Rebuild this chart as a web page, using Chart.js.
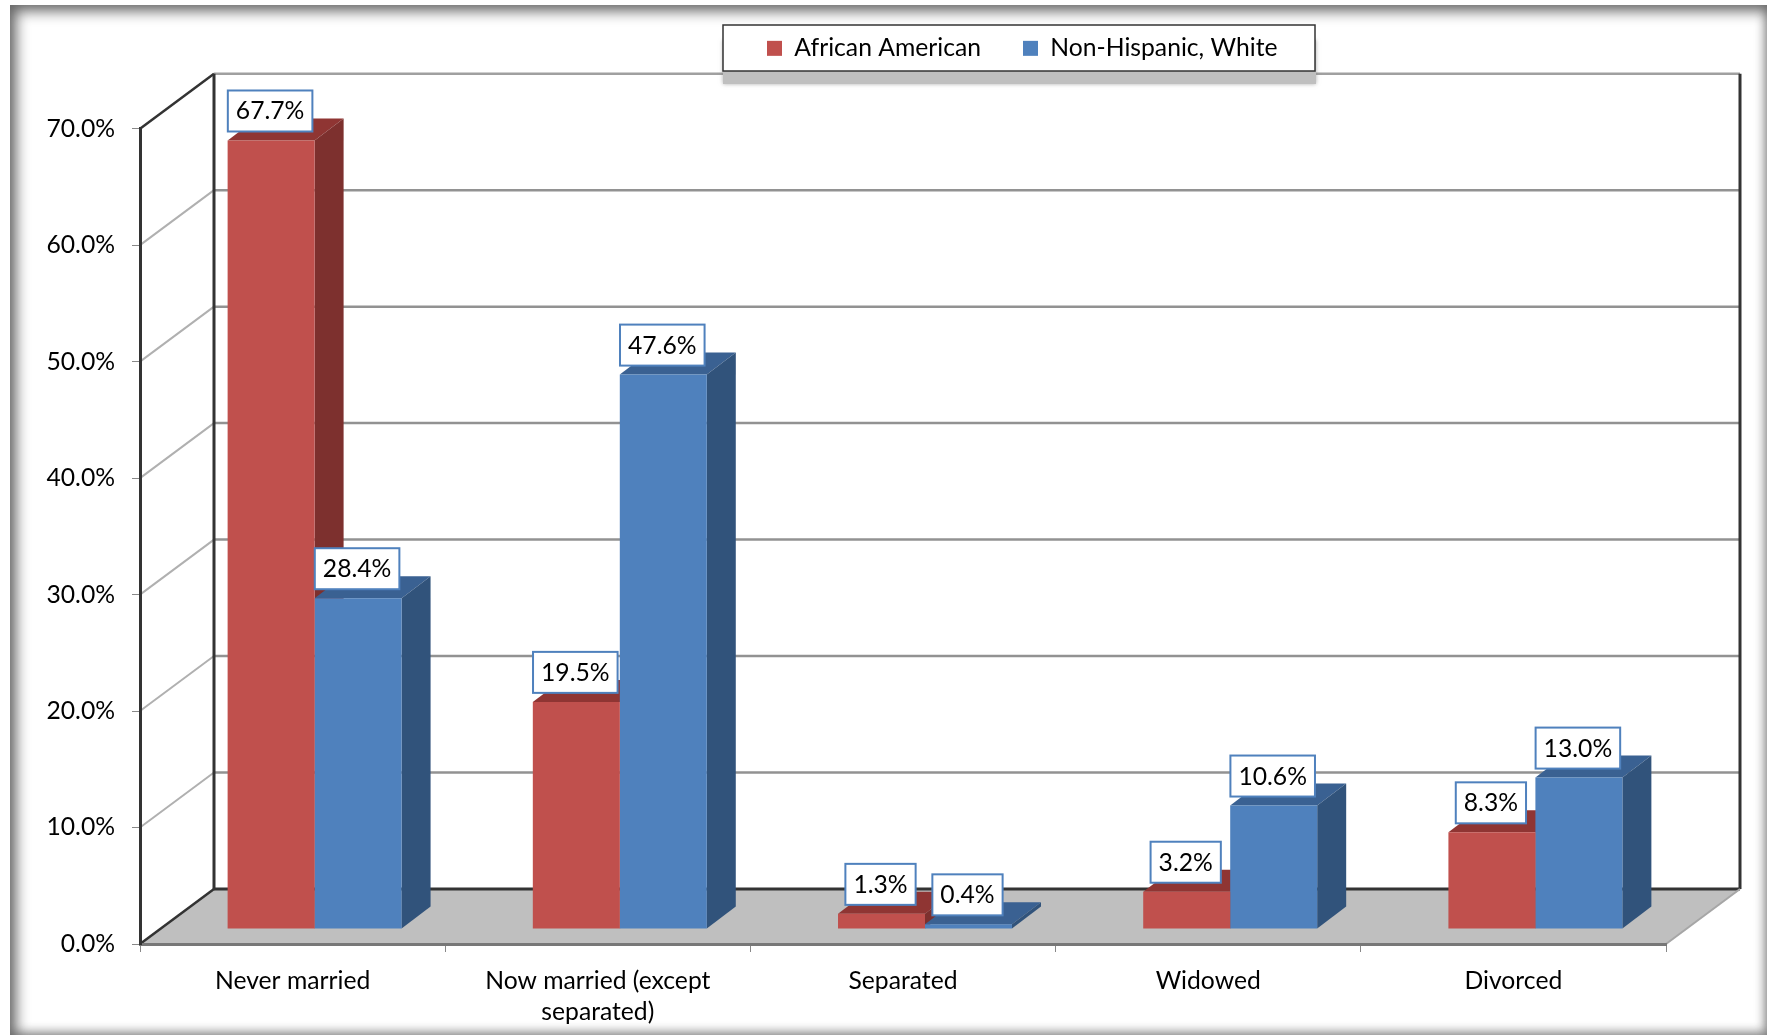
<!DOCTYPE html>
<html>
<head>
<meta charset="utf-8">
<title>Marital status</title>
<script src="https://cdn.jsdelivr.net/npm/chart.js@4"></script>
<style>
    html, body { margin: 0; padding: 0; background: #fff; }
    #wrap { position: relative; width: 1767px; height: 1035px; overflow: hidden; }
    #frame { position: absolute; left: 10px; top: 5px; right: 0; bottom: 0; box-shadow: inset 4px 4px 14px 2px #666, inset -2px -3px 10px 0 #bbb; }
    #chart { position: absolute; left: 0; top: 0; filter: blur(0.5px); }
</style>
</head>
<body>
<div id="wrap">
    <div id="frame"></div>
    <canvas id="chart" width="1767" height="1035"></canvas>
</div>
<script>
const categories = ["Never married", ["Now married (except", "separated)"], "Separated", "Widowed", "Divorced"];
const africanAmerican = [67.7, 19.5, 1.3, 3.2, 8.3];
const nonHispanicWhite = [28.4, 47.6, 0.4, 10.6, 13.0];

const fontName = "Lato, 'Open Sans', sans-serif";
const fontSize = 24.7;

// the 3d look: how far the back wall sits from the front plane, and the bars in between
const wallDx = 74, wallDy = -55;
const barDx = 22, barDy = -15;
const sideDx = 29, sideDy = -22;

const faces = [
    { top: "#8f3533", side: "#7d302e" },
    { top: "#3a6192", side: "#31537b" }
];

function line(ctx, x1, y1, x2, y2, color, width) {
    ctx.strokeStyle = color;
    ctx.lineWidth = width;
    ctx.beginPath();
    ctx.moveTo(x1, y1);
    ctx.lineTo(x2, y2);
    ctx.stroke();
}

function poly(ctx, pts, color) {
    ctx.fillStyle = color;
    ctx.beginPath();
    pts.forEach((p, i) => i ? ctx.lineTo(p[0], p[1]) : ctx.moveTo(p[0], p[1]));
    ctx.closePath();
    ctx.fill();
}

const walls3d = {
    id: "walls3d",
    afterLayout(chart) {
        // legend sits off centre in the original
        const legend = chart.legend;
        legend.left = 725;
        legend.right = 1400;
        legend.top = -6;
        legend.bottom = 103;
    },
    beforeDraw(chart) {
        const ctx = chart.ctx;
        const area = chart.chartArea;
        const y = chart.scales.y;
        const left = area.left, right = area.right, bottom = area.bottom;
        ctx.save();

        // floor
        poly(ctx, [[left, bottom], [left + wallDx, bottom + wallDy], [right + wallDx, bottom + wallDy], [right, bottom]], "#bfbfbf");

        // grid lines on the side and back walls
        y.ticks.forEach(t => {
            const py = y.getPixelForValue(t.value);
            if (t.value > 0 && t.value < y.max) {
                line(ctx, left, py, left + wallDx, py + wallDy, "#b0b0b0", 2);
                line(ctx, left + wallDx, py + wallDy, right + wallDx, py + wallDy, "#929292", 2.5);
            }
        });
        const topY = y.getPixelForValue(y.max);
        line(ctx, left + wallDx, topY + wallDy, right + wallDx, topY + wallDy, "#a0a0a0", 2.5);
        line(ctx, left, topY, left + wallDx, topY + wallDy, "#333", 2.5);
        line(ctx, left, bottom, left + wallDx, bottom + wallDy, "#333", 2.5);
        line(ctx, left + wallDx, topY + wallDy, left + wallDx, bottom + wallDy, "#333", 3);
        line(ctx, right + wallDx, topY + wallDy, right + wallDx, bottom + wallDy, "#333", 3);
        line(ctx, left + wallDx, bottom + wallDy, right + wallDx, bottom + wallDy, "#333", 3);
        line(ctx, right, bottom, right + wallDx, bottom + wallDy, "#a6a6a6", 2);

        // legend box with its shadow
        ctx.fillStyle = "#bfbfbf";
        ctx.shadowColor = "rgba(120,120,120,0.6)";
        ctx.shadowBlur = 4;
        ctx.fillRect(723, 40, 593, 44);
        ctx.shadowBlur = 0;
        ctx.fillStyle = "#fff";
        ctx.fillRect(723, 25, 592, 46);
        ctx.strokeStyle = "#333";
        ctx.lineWidth = 1.5;
        ctx.strokeRect(723, 25, 592, 46);
        ctx.restore();
    },
    beforeDatasetsDraw(chart) {
        const ctx = chart.ctx;
        ctx.save();
        ctx.translate(barDx, barDy);

        // top and side faces go under the front faces chart.js draws
        chart.data.datasets.forEach((ds, i) => {
            chart.getDatasetMeta(i).data.forEach(bar => {
                const x1 = bar.x - bar.width / 2, x2 = bar.x + bar.width / 2;
                poly(ctx, [[x1, bar.y], [x1 + sideDx, bar.y + sideDy], [x2 + sideDx, bar.y + sideDy], [x2, bar.y]], faces[i].top);
                poly(ctx, [[x2, bar.y], [x2 + sideDx, bar.y + sideDy], [x2 + sideDx, bar.base + sideDy], [x2, bar.base]], faces[i].side);
            });
        });
    },
    afterDatasetsDraw(chart) {
        const ctx = chart.ctx;

        // value labels in their boxes
        ctx.font = fontSize + "px " + fontName;
        ctx.textAlign = "center";
        ctx.textBaseline = "middle";
        chart.data.datasets.forEach((ds, i) => {
            chart.getDatasetMeta(i).data.forEach((bar, j) => {
                const text = ds.data[j].toFixed(1) + "%";
                const w = ctx.measureText(text).width + 16;
                const cx = bar.x - 1;
                ctx.fillStyle = "#fff";
                ctx.fillRect(cx - w / 2, bar.y - 50, w, 41);
                ctx.strokeStyle = "#4f81bd";
                ctx.lineWidth = 2;
                ctx.strokeRect(cx - w / 2, bar.y - 50, w, 41);
                ctx.fillStyle = "#000";
                ctx.fillText(text, cx, bar.y - 29);
            });
        });
        ctx.restore();
    }
};

new Chart(document.getElementById("chart"), {
    type: "bar",
    data: {
        labels: categories,
        datasets: [
            { label: "African American", data: africanAmerican, backgroundColor: "#c0504d", clip: false },
            { label: "Non-Hispanic, White", data: nonHispanicWhite, backgroundColor: "#4f81bd", clip: false }
        ]
    },
    options: {
        responsive: false,
        animation: false,
        devicePixelRatio: 1,
        events: [],
        layout: { autoPadding: false, padding: { top: 52, right: 101, left: 0, bottom: 0 } },
        datasets: { bar: { barPercentage: 1, categoryPercentage: 0.57 } },
        plugins: {
            tooltip: { enabled: false },
            legend: {
                position: "top",
                align: "start",
                labels: {
                    boxWidth: 15,
                    boxHeight: 15,
                    padding: 42,
                    color: "#000",
                    font: { family: fontName, size: fontSize }
                }
            }
        },
        scales: {
            x: {
                afterFit(scale) { scale.height = 91; },
                grid: { drawOnChartArea: false, drawTicks: true, tickLength: 8, color: "#888" },
                border: { color: "#777", width: 3 },
                ticks: {
                    autoSkip: false,
                    maxRotation: 0,
                    padding: 13,
                    color: "#000",
                    font: { family: fontName, size: fontSize, lineHeight: 1.28 }
                }
            },
            y: {
                min: 0,
                max: 70,
                afterFit(scale) { scale.width = 140; },
                grid: { drawOnChartArea: false, drawTicks: true, tickLength: 8, color: "#888" },
                border: { color: "#333", width: 3 },
                ticks: {
                    stepSize: 10,
                    padding: 17,
                    color: "#000",
                    font: { family: fontName, size: fontSize },
                    callback: v => v.toFixed(1) + "%"
                }
            }
        }
    },
    plugins: [walls3d]
});
</script>
</body>
</html>
